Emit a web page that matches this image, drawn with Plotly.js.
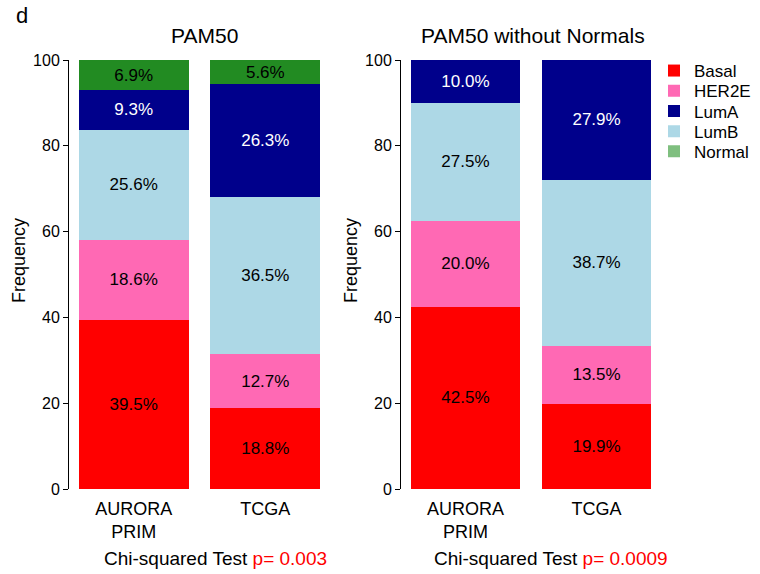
<!DOCTYPE html>
<html>
<head>
<meta charset="utf-8">
<script src="https://cdn.plot.ly/plotly-3.0.1.min.js"></script>
<style>
  html, body { margin: 0; padding: 0; background: #fff; }
  #chart { width: 760px; height: 574px; }
</style>
</head>
<body>
<div id="chart"></div>
<script>
// Cohorts on the x axis (bar centres in barplot units, width 1, space 0.2)
const cohortPos = [0.7, 1.9];
const cohortLabels = ['AURORA<br>PRIM', 'TCGA'];

// PAM50 subtype frequencies (%), all samples
const basalAll  = [39.5, 18.8];
const her2eAll  = [18.6, 12.7];
const lumBAll   = [25.6, 36.5];
const lumAAll   = [9.3, 26.3];
const normalAll = [6.9, 5.6];

// PAM50 subtype frequencies (%), Normal-like samples removed
const basalNoN = [42.5, 19.9];
const her2eNoN = [20.0, 13.5];
const lumBNoN  = [27.5, 38.7];
const lumANoN  = [10.0, 27.9];

// Legend entries
const legendNames = ['Basal', 'HER2E', 'LumA', 'LumB', 'Normal'];

const pValues = ['0.003', '0.0009'];

const FONT = 'Liberation Sans, Arial, sans-serif';
const colors = {
  Basal: '#FF0000', HER2E: '#FF69B4', LumA: '#00008B', LumB: '#ADD8E6', Normal: '#228B22'
};
const legendColors = {
  Basal: '#FF0000', HER2E: '#FF69B4', LumA: '#00008B', LumB: '#ADD8E6', Normal: '#7FBF7F'
};
const textColors = { Basal: '#000', HER2E: '#000', LumA: '#fff', LumB: '#000', Normal: '#000' };

function stackTrace(name, values, xa, ya) {
  return {
    type: 'bar', name: name, x: cohortPos, y: values, width: 1,
    xaxis: xa, yaxis: ya, showlegend: false,
    marker: { color: colors[name], line: { width: 0 } },
    text: values.map(v => v.toFixed(1) + '%'),
    textposition: 'inside', insidetextanchor: 'middle', constraintext: 'none',
    textfont: { family: FONT, size: 17, color: textColors[name] },
    hoverinfo: 'skip'
  };
}

const traces = [
  stackTrace('Basal', basalAll, 'x', 'y'),
  stackTrace('HER2E', her2eAll, 'x', 'y'),
  stackTrace('LumB', lumBAll, 'x', 'y'),
  stackTrace('LumA', lumAAll, 'x', 'y'),
  stackTrace('Normal', normalAll, 'x', 'y'),
  stackTrace('Basal', basalNoN, 'x2', 'y2'),
  stackTrace('HER2E', her2eNoN, 'x2', 'y2'),
  stackTrace('LumB', lumBNoN, 'x2', 'y2'),
  stackTrace('LumA', lumANoN, 'x2', 'y2')
];

const W = 760, H = 574;
const px = v => v / W;
const py = v => (H - v) / H;

// one single-entry legend per subtype, stacked in a column
const legendKeys = legendNames.map((n, i) => i === 0 ? 'legend' : 'legend' + (i + 1));
legendNames.forEach((n, i) => {
  traces.push({
    type: 'bar', name: n, x: [null], y: [null], xaxis: 'x2', yaxis: 'y2',
    legend: legendKeys[i],
    marker: { color: legendColors[n], line: { width: 0 } }, showlegend: true
  });
});

const yAxisBase = {
  range: [0, 100], tickvals: [0, 20, 40, 60, 80, 100],
  showline: true, linecolor: '#000', linewidth: 1,
  ticks: 'outside', ticklen: 5, tickcolor: '#000', tickwidth: 1,
  showgrid: false, zeroline: false,
  tickfont: { family: FONT, size: 16, color: '#000' },
  domain: [py(489), py(60)], fixedrange: true
};
const xAxisBase = {
  range: [0.11, 2.49], tickvals: cohortPos, ticktext: cohortLabels,
  showline: false, showgrid: false, zeroline: false,
  ticks: 'outside', ticklen: 3, tickcolor: 'rgba(0,0,0,0)',
  tickfont: { family: FONT, size: 18, color: '#000' }, fixedrange: true
};

const layout = {
  width: W, height: H,
  margin: { l: 0, r: 0, t: 0, b: 0 },
  paper_bgcolor: '#fff', plot_bgcolor: '#fff',
  barmode: 'stack',
  font: { family: FONT, color: '#000' },
  xaxis: Object.assign({}, xAxisBase, { domain: [px(69), px(330)], anchor: 'y' }),
  yaxis: Object.assign({}, yAxisBase, { anchor: 'x' }),
  xaxis2: Object.assign({}, xAxisBase, { domain: [px(401), px(661)], anchor: 'y2' }),
  yaxis2: Object.assign({}, yAxisBase, { anchor: 'x2' }),
  showlegend: true,
  annotations: [
    { text: 'd', xref: 'paper', yref: 'paper', x: px(14), y: py(16), xanchor: 'left', yanchor: 'middle',
      showarrow: false, font: { family: FONT, size: 22, color: '#000' } },
    { text: 'PAM50', xref: 'paper', yref: 'paper', x: px(204), y: py(35), xanchor: 'center', yanchor: 'middle',
      showarrow: false, font: { family: FONT, size: 21, color: '#000' } },
    { text: 'PAM50 without Normals', xref: 'paper', yref: 'paper', x: px(533), y: py(35), xanchor: 'center', yanchor: 'middle',
      showarrow: false, font: { family: FONT, size: 21, color: '#000' } },
    { text: 'Frequency', xref: 'paper', yref: 'paper', x: px(19), y: py(261), xanchor: 'center', yanchor: 'middle',
      textangle: -90, showarrow: false, font: { family: FONT, size: 18, color: '#000' } },
    { text: 'Frequency', xref: 'paper', yref: 'paper', x: px(351), y: py(261), xanchor: 'center', yanchor: 'middle',
      textangle: -90, showarrow: false, font: { family: FONT, size: 18, color: '#000' } },
    { text: 'Chi-squared Test <span style="color:#FF0000">p= ' + pValues[0] + '</span>', xref: 'paper', yref: 'paper',
      x: px(215), y: py(558), xanchor: 'center', yanchor: 'middle',
      showarrow: false, font: { family: FONT, size: 19, color: '#000' } },
    { text: 'Chi-squared Test <span style="color:#FF0000">p= ' + pValues[1] + '</span>', xref: 'paper', yref: 'paper',
      x: px(551), y: py(558), xanchor: 'center', yanchor: 'middle',
      showarrow: false, font: { family: FONT, size: 19, color: '#000' } }
  ]
};

// legend rows, 20 px apart starting at y = 71
legendKeys.forEach((key, i) => {
  layout[key] = {
    x: px(654), y: py(71 + 20.2 * i), xanchor: 'left', yanchor: 'middle',
    bgcolor: 'rgba(0,0,0,0)', borderwidth: 0,
    font: { family: FONT, size: 17, color: '#000' },
    itemclick: false, itemdoubleclick: false
  };
});

Plotly.newPlot('chart', traces, layout, { displayModeBar: false, staticPlot: true });
</script>
</body>
</html>
